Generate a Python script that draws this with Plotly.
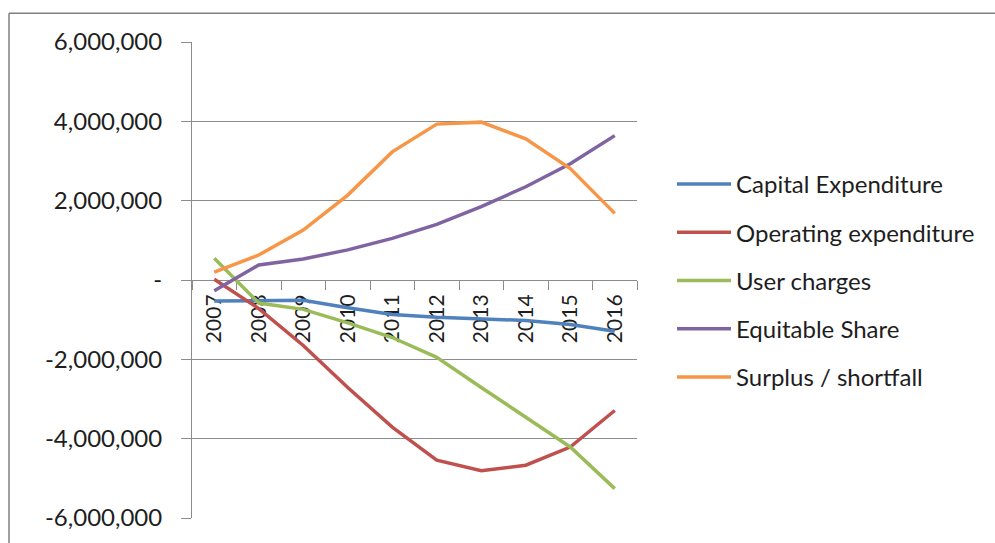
import plotly.graph_objects as go

years = ["2007", "2008", "2009", "2010", "2011", "2012", "2013", "2014", "2015", "2016"]

capital_expenditure = [-530000, -520000, -510000, -700000, -870000, -940000, -970000, -1020000, -1120000, -1290000]
operating_expenditure = [20000, -720000, -1650000, -2710000, -3710000, -4540000, -4810000, -4670000, -4210000, -3290000]
user_charges = [550000, -580000, -740000, -1080000, -1450000, -1950000, -2710000, -3460000, -4210000, -5260000]
equitable_share = [-270000, 380000, 530000, 760000, 1050000, 1400000, 1850000, 2350000, 2930000, 3640000]
surplus_shortfall = [200000, 630000, 1260000, 2140000, 3230000, 3930000, 3980000, 3560000, 2810000, 1680000]

series_names = ["Capital Expenditure", "Operating expenditure", "User charges",
                "Equitable Share", "Surplus / shortfall"]
series_values = [capital_expenditure, operating_expenditure, user_charges,
                 equitable_share, surplus_shortfall]
series_colors = ["#4F81BD", "#C0504D", "#9BBB59", "#8064A2", "#F79646"]

y_tick_values = [6000000, 4000000, 2000000, 0, -2000000, -4000000, -6000000]
y_tick_labels = ["6,000,000", "4,000,000", "2,000,000", "-", "-2,000,000", "-4,000,000", "-6,000,000"]

FONT = "Lato, Calibri, Carlito, sans-serif"
TEXT = "#1e1e1e"
GRID = "#8c8c8c"

fig = go.Figure()
for i, (name, vals, col) in enumerate(zip(series_names, series_values, series_colors)):
    fig.add_trace(go.Scatter(
        x=years, y=vals, name=name, mode="lines",
        line=dict(color=col, width=3.5),
        legendgroup=f"g{i}",
    ))

W, H = 995, 543
L, R, T, B = 192, 637, 42, 522

fig.update_layout(
    width=W, height=H,
    margin=dict(l=L, r=W - R, t=T, b=H - B, pad=0),
    paper_bgcolor="white", plot_bgcolor="white",
    font=dict(family=FONT, color=TEXT),
    showlegend=True,
    legend=dict(
        x=(672 - L) / (R - L), xanchor="left",
        y=(B - 163) / (B - T), yanchor="top",
        font=dict(family=FONT, size=24, color=TEXT),
        traceorder="grouped", tracegroupgap=14,
        itemwidth=54, bgcolor="rgba(0,0,0,0)",
    ),
    xaxis=dict(
        type="category", range=[-0.5, 9.5],
        anchor="free", position=0.5,
        showgrid=False, showline=True, linecolor=GRID, linewidth=1,
        ticks="outside", ticklen=9, tickcolor=GRID, tickson="boundaries",
        tickangle=-90, tickfont=dict(family=FONT, size=21, color=TEXT),
        ticklabelstandoff=5,
        layer="below traces", zeroline=False,
    ),
    yaxis=dict(
        range=[-6000000, 6000000],
        tickvals=y_tick_values, ticktext=y_tick_labels,
        showgrid=True, gridcolor=GRID, gridwidth=1,
        showline=True, linecolor=GRID, linewidth=1,
        ticks="outside", ticklen=10, tickcolor=GRID,
        tickfont=dict(family=FONT, size=24, color=TEXT),
        ticklabelstandoff=14, zeroline=False,
        layer="below traces",
    ),
)

# chart frame (top and left edges visible)
fig.add_shape(type="line", xref="paper", yref="paper",
              x0=(9 - L) / (R - L), x1=(W + 5 - L) / (R - L),
              y0=(B - 13) / (B - T), y1=(B - 13) / (B - T),
              line=dict(color="#7f7f7f", width=1.5))
fig.add_shape(type="line", xref="paper", yref="paper",
              x0=(9 - L) / (R - L), x1=(9 - L) / (R - L),
              y0=(B - 13) / (B - T), y1=(B - H - 5) / (B - T),
              line=dict(color="#7f7f7f", width=1.5))

fig.write_html("out.html")
